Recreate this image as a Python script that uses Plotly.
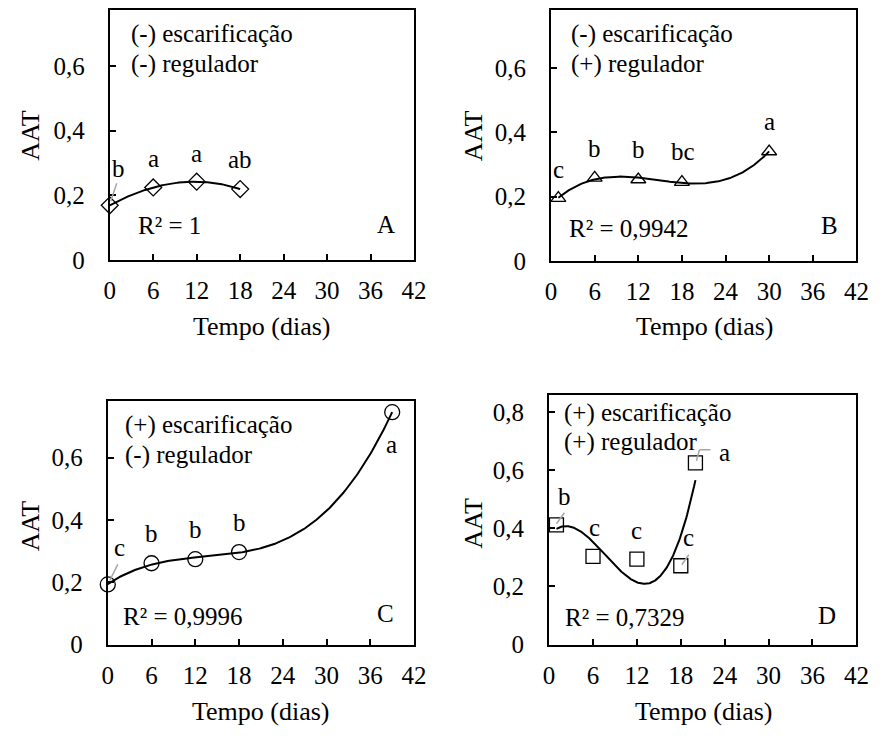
import numpy as np
import plotly.graph_objects as go

# ---------------- data ----------------
A_x = [0, 6, 12, 18]
A_y = [0.169, 0.224, 0.242, 0.219]
A_letters = ["b", "a", "a", "ab"]

B_x = [1, 6, 12, 18, 30]
B_y = [0.195, 0.258, 0.253, 0.245, 0.340]
B_letters = ["c", "b", "b", "bc", "a"]

C_x = [0, 6, 12, 18, 39]
C_y = [0.193, 0.261, 0.274, 0.297, 0.746]
C_letters = ["c", "b", "b", "b", "a"]

D_x = [1, 6, 12, 18, 20]
D_y = [0.412, 0.303, 0.294, 0.271, 0.625]
D_letters = ["b", "c", "c", "c", "a"]

x_ticks = [0, 6, 12, 18, 24, 30, 36, 42]
y_ticks_abc = [0, 0.2, 0.4, 0.6]
y_ticktext_abc = ["0", "0,2", "0,4", "0,6"]
y_ticks_d = [0, 0.2, 0.4, 0.6, 0.8]
y_ticktext_d = ["0", "0,2", "0,4", "0,6", "0,8"]

treat_line1 = ["(-) escarificação", "(-) escarificação", "(+) escarificação", "(+) escarificação"]
treat_line2 = ["(-) regulador", "(+) regulador", "(-) regulador", "(+) regulador"]
r2_text = ["R² = 1", "R² = 0,9942", "R² = 0,9996", "R² = 0,7329"]
panel_ids = ["A", "B", "C", "D"]

# ---------------- layout helpers ----------------
W, H = 887, 740
FONT = "Liberation Serif"
FS = 25


def px(x):
    return x / W


def py(y):
    return 1 - y / H


# plot boxes in pixels: left, right, top, bottom
boxes = [
    (106, 417, 10, 265),
    (557, 869, 10, 266),
    (104, 417, 409, 657),
    (555, 869, 403, 657),
]
y_max = [0.773, 0.78, 0.781, 0.857]

series = [
    (A_x, A_y, A_letters, "diamond-open", 13),
    (B_x, B_y, B_letters, "triangle-up-open", 13),
    (C_x, C_y, C_letters, "circle-open", 15),
    (D_x, D_y, D_letters, "square-open", 14),
]

# label offsets (pixels, dx right, dy up) for the significance letters
label_offsets = [
    [(9, 37), (0, 29), (0, 28), (0, 30)],
    [(0, 29), (0, 29), (0, 30), (1, 31), (0, 30)],
    [(12, 37), (0, 30), (0, 30), (0, 30), (-1, -32)],
    [(8, 28), (1, 29), (0, 29), (8, 28), (29, 10)],
]
# grey leader lines: (panel, point index, list of pixel vertices relative to point)
leaders = [
    (0, 0, [(1, 4), (7, 22)]),
    (2, 0, [(2, 4), (10, 20)]),
    (3, 0, [(0, 1), (8, 12)]),
    (3, 3, [(1, 1), (8, 11)]),
    (3, 4, [(1, 2), (4, 13), (15, 13)]),
]

# text positions per panel (pixels)
text1_pos = [(126, 35), (575, 35), (120, 433), (568, 421)]
text2_pos = [(126, 65), (575, 65), (120, 464), (568, 451)]
r2_pos = [(133, 230), (573, 233), (118, 628), (569, 629)]
id_pos = [(388, 229), (842, 230), (388, 625), (839, 627)]
ytitle_pos = [(25, 138), (478, 138), (25, 536), (478, 533)]
xtitle_pos = [(262, 333), (714, 333), (261, 725), (713, 725)]

fig = go.Figure()
annotations = []
shapes = []

for i, (xs, ys, letters, sym, msize) in enumerate(series):
    l, r, t, b = boxes[i]
    n = i + 1
    xa = "xaxis" if n == 1 else f"xaxis{n}"
    ya = "yaxis" if n == 1 else f"yaxis{n}"
    xref = "x" if n == 1 else f"x{n}"
    yref = "y" if n == 1 else f"y{n}"

    # polynomial (order 3) trendline fitted to the data, as in the original
    coef = np.polyfit(xs, ys, 3)
    xf = np.linspace(min(xs), max(xs), 200)
    yf = np.polyval(coef, xf)
    fig.add_trace(go.Scatter(x=xf, y=yf, mode="lines", xaxis=xref, yaxis=yref,
                             line=dict(color="black", width=2), showlegend=False,
                             hoverinfo="skip"))
    fig.add_trace(go.Scatter(x=xs, y=ys, mode="markers", xaxis=xref, yaxis=yref,
                             marker=dict(symbol=sym, size=msize, color="black",
                                         line=dict(width=1.3, color="black")),
                             showlegend=False, cliponaxis=False))

    yt = y_ticks_d if i == 3 else y_ticks_abc
    ytt = y_ticktext_d if i == 3 else y_ticktext_abc
    axis_common = dict(showline=True, linecolor="black", linewidth=2, mirror=True,
                       ticks="inside", ticklen=6, tickwidth=1.5, tickcolor="black",
                       showgrid=False, zeroline=False,
                       tickfont=dict(family=FONT, size=FS, color="black"))
    fig.update_layout({
        xa: dict(domain=[px(l), px(r)], range=[0, 42], tickvals=x_ticks,
                 anchor=yref, ticklabelstandoff=7, **axis_common),
        ya: dict(domain=[py(b), py(t)], range=[0, y_max[i]], tickvals=yt,
                 ticktext=ytt, anchor=xref, ticklabelstandoff=18, **axis_common),
    })

    for k, (x, y, lab) in enumerate(zip(xs, ys, letters)):
        dx, dy = label_offsets[i][k]
        annotations.append(dict(x=x, y=y, xref=xref, yref=yref, text=lab,
                                showarrow=False, xshift=dx, yshift=dy,
                                font=dict(family=FONT, size=FS, color="black")))

    for (txt, pos, anchor) in [(treat_line1[i], text1_pos[i], "left"),
                               (treat_line2[i], text2_pos[i], "left"),
                               (r2_text[i], r2_pos[i], "left"),
                               (panel_ids[i], id_pos[i], "center")]:
        annotations.append(dict(x=px(pos[0]), y=py(pos[1]), xref="paper", yref="paper",
                                text=txt, showarrow=False, xanchor=anchor,
                                yanchor="middle",
                                font=dict(family=FONT, size=FS, color="black")))
    annotations.append(dict(x=px(ytitle_pos[i][0]), y=py(ytitle_pos[i][1]),
                            xref="paper", yref="paper", text="AAT", textangle=-90,
                            showarrow=False, xanchor="center", yanchor="middle",
                            font=dict(family=FONT, size=FS + 1, color="black")))
    annotations.append(dict(x=px(xtitle_pos[i][0]), y=py(xtitle_pos[i][1]),
                            xref="paper", yref="paper", text="Tempo (dias)",
                            showarrow=False, xanchor="center", yanchor="middle",
                            font=dict(family=FONT, size=FS + 1, color="black")))

for (pi, k, verts) in leaders:
    xs, ys = series[pi][0], series[pi][1]
    n = pi + 1
    xref = "x" if n == 1 else f"x{n}"
    yref = "y" if n == 1 else f"y{n}"
    for (a, c) in zip(verts[:-1], verts[1:]):
        shapes.append(dict(type="line", xref=xref, yref=yref,
                           xsizemode="pixel", ysizemode="pixel",
                           xanchor=xs[k], yanchor=ys[k],
                           x0=a[0], y0=a[1], x1=c[0], y1=c[1],
                           line=dict(color="#a6a6a6", width=1.5)))

fig.update_layout(width=W, height=H, margin=dict(l=0, r=0, t=0, b=0),
                  paper_bgcolor="white", plot_bgcolor="white",
                  annotations=annotations, shapes=shapes,
                  font=dict(family=FONT, size=FS, color="black"))

fig.write_html("out.html")
